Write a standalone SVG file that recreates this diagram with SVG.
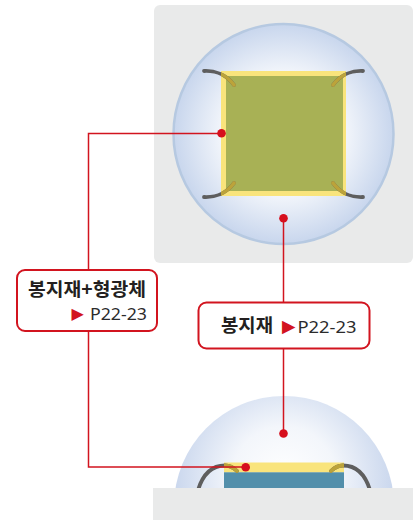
<svg xmlns="http://www.w3.org/2000/svg" width="416" height="520" viewBox="0 0 416 520">
  <defs>
    <radialGradient id="lensTop" gradientUnits="userSpaceOnUse" cx="283.5" cy="134" r="110">
      <stop offset="0" stop-color="#ffffff"/>
      <stop offset="0.55" stop-color="#f3f6fb"/>
      <stop offset="1" stop-color="#c8d6ed"/>
    </radialGradient>
    <radialGradient id="lensSide" gradientUnits="userSpaceOnUse" cx="284" cy="478" r="115">
      <stop offset="0" stop-color="#ffffff"/>
      <stop offset="0.45" stop-color="#f3f6fb"/>
      <stop offset="1" stop-color="#c6d4ec"/>
    </radialGradient>
    <clipPath id="chipTopClip"><rect x="221" y="71" width="125" height="125"/></clipPath>
    <clipPath id="chipSideClip"><rect x="224" y="462.5" width="120" height="26"/></clipPath>
  </defs>
  <style>
    .panel { fill: #e9eaea; }
    .wire { fill: none; stroke: #5e5e5e; stroke-width: 3.8; stroke-linecap: round; }
    .wire-in { fill: none; stroke: #bca33a; stroke-width: 3.8; stroke-linecap: round; }
    .phosphor { fill: #f9e47c; }
    .die-top { fill: #a8b155; }
    .die-side { fill: #528fab; }
    .lead { fill: none; stroke: #d2141f; stroke-width: 1.5; }
    .dot { fill: #d60f1d; }
    .box { fill: #ffffff; stroke: #d2141f; stroke-width: 2; }
    .title { font-family: "Noto Sans CJK KR", "Noto Sans", sans-serif; font-weight: 700; font-size: 18.5px; fill: #231f20; }
    .page { font-family: "Noto Sans", "Noto Sans CJK KR", sans-serif; font-size: 17px; fill: #2b2b2b; }
    .arrow { font-family: "DejaVu Sans", sans-serif; fill: #d2141f; }
  </style>

  <!-- top view: lens over a square chip -->
  <g id="top-view">
    <rect class="panel" x="154" y="5" width="259" height="258" rx="6"/>
    <circle cx="283.5" cy="134" r="110" fill="url(#lensTop)" stroke="#b6c9e1" stroke-width="2.5"/>
    <rect class="phosphor" x="221" y="71" width="125" height="125"/>
    <rect class="die-top" x="226" y="76" width="117" height="115"/>
    <g id="top-wires">
      <path class="wire" d="M204,71 C214,70.5 226,74 234,85"/>
      <path class="wire" d="M363,71 C353,70.5 341,74 333,85"/>
      <path class="wire" d="M204,197 C214,197.5 226,194 234,183"/>
      <path class="wire" d="M363,197 C353,197.5 341,194 333,183"/>
      <g clip-path="url(#chipTopClip)">
        <path class="wire-in" d="M204,71 C214,70.5 226,74 234,85"/>
        <path class="wire-in" d="M363,71 C353,70.5 341,74 333,85"/>
        <path class="wire-in" d="M204,197 C214,197.5 226,194 234,183"/>
        <path class="wire-in" d="M363,197 C353,197.5 341,194 333,183"/>
      </g>
    </g>
  </g>

  <!-- side view: dome lens over the chip on a base -->
  <g id="side-view">
    <circle cx="284" cy="506" r="110" fill="url(#lensSide)"/>
    <rect class="phosphor" x="224" y="462.5" width="120" height="10"/>
    <rect class="die-side" x="224" y="472.3" width="120" height="16"/>
    <path class="wire" d="M198,490 C203,474 212,465.5 225,465.5 C230,465.5 234,468 237,471"/>
    <path class="wire" d="M370,490 C365,474 356,465.5 343,465.5 C338,465.5 334,468 331,471"/>
    <g clip-path="url(#chipSideClip)">
      <path class="wire-in" d="M198,490 C203,474 212,465.5 225,465.5 C230,465.5 234,468 237,471"/>
      <path class="wire-in" d="M370,490 C365,474 356,465.5 343,465.5 C338,465.5 334,468 331,471"/>
    </g>
    <rect class="panel" x="153" y="488" width="260" height="32"/>
  </g>

  <!-- leader lines with their end dots -->
  <g id="connectors">
    <path class="lead" d="M221.5,133.5 H88.5 V467 H245.5"/>
    <path class="lead" d="M283.5,218 V433.5"/>
    <circle class="dot" cx="221.5" cy="133.3" r="4.3"/>
    <circle class="dot" cx="245.7" cy="467.2" r="4.3"/>
    <circle class="dot" cx="283.5" cy="218.3" r="4.3"/>
    <circle class="dot" cx="283.5" cy="433.5" r="4.3"/>
  </g>

  <g id="label-encapsulant-phosphor">
    <rect class="box" x="17" y="270" width="140" height="61" rx="8"/>
    <text class="title" x="28" y="296" textLength="118" lengthAdjust="spacingAndGlyphs">봉지재+형광체</text>
    <text class="arrow" x="71.5" y="318.5" font-size="16">▶</text>
    <text class="page" x="90" y="320" textLength="57" lengthAdjust="spacingAndGlyphs">P22-23</text>
  </g>

  <g id="label-encapsulant">
    <rect class="box" x="198.5" y="302.5" width="171" height="46" rx="8"/>
    <text class="title" x="221" y="332" textLength="52" lengthAdjust="spacingAndGlyphs">봉지재</text>
    <text class="arrow" x="282" y="331.5" font-size="17.5">▶</text>
    <text class="page" x="297.5" y="333" textLength="59" lengthAdjust="spacingAndGlyphs">P22-23</text>
  </g>
</svg>
